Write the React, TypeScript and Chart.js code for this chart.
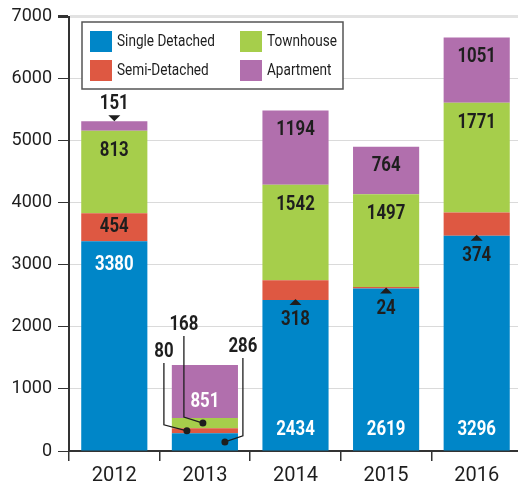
import React, { useEffect, useRef } from "react";
import { Chart, registerables } from "chart.js";

Chart.register(...registerables);

const categories = ["2012", "2013", "2014", "2015", "2016"];
const seriesNames = ["Single Detached", "Semi-Detached", "Townhouse", "Apartment"];
// bar heights as drawn in the picture
const singleDetached = [3380, 286, 2434, 2619, 3470];
const semiDetached = [454, 80, 318, 24, 374];
const townhouse = [1330, 168, 1542, 1497, 1771];
const apartment = [151, 851, 1194, 764, 1051];
// value labels as printed in the picture
const singleLabels = ["3380", "286", "2434", "2619", "3296"];
const semiLabels = ["454", "80", "318", "24", "374"];
const townLabels = ["813", "168", "1542", "1497", "1771"];
const aptLabels = ["151", "851", "1194", "764", "1051"];
const yTicks = [0, 1000, 2000, 3000, 4000, 5000, 6000, 7000];

const colors = ["#0086C8", "#DE5842", "#A6CE4B", "#B16FAD"];
const FONT = "Roboto, 'Liberation Sans', sans-serif";
const DARK = "#1e1e1e";

function scaledText(ctx: any, text: string, x: number, y: number, sx: number) {
  ctx.save();
  ctx.translate(x, y);
  ctx.scale(sx, 1);
  ctx.fillText(text, 0, 0);
  ctx.restore();
}

const labelPlugin = {
  id: "valueLabels",
  afterDatasetsDraw(chart: any) {
    const ctx = chart.ctx;
    const labels = [singleLabels, semiLabels, townLabels, aptLabels];
    ctx.save();
    ctx.font = `bold 20px ${FONT}`;
    ctx.textAlign = "center";
    ctx.textBaseline = "middle";
    const SX = 0.84;
    const tri = (x: number, tipY: number, up: boolean) => {
      ctx.beginPath();
      ctx.moveTo(x, tipY);
      ctx.lineTo(x - 6, tipY + (up ? 6 : -6));
      ctx.lineTo(x + 6, tipY + (up ? 6 : -6));
      ctx.closePath();
      ctx.fillStyle = DARK;
      ctx.fill();
    };
    const stackTop = (i: number) => chart.getDatasetMeta(3).data[i].y;
    const callout = [
      [38, -18, 20],
      [-41, -13, -18],
      [-21, -40, -2],
    ];
    for (let s = 0; s < 4; s++) {
      const meta = chart.getDatasetMeta(s);
      meta.data.forEach((el: any, i: number) => {
        const text = labels[s][i];
        const top = el.y;
        const base = el.base;
        const cx = el.x;
        if (i === 1 && s < 3) {
          const [tdx, tdy, ddx] = callout[s];
          const tx = cx + tdx;
          const ty = stackTop(i) + tdy;
          const dx = cx + ddx;
          const dy = (top + base) / 2;
          ctx.fillStyle = DARK;
          scaledText(ctx, text, tx, ty, SX);
          ctx.strokeStyle = DARK;
          ctx.lineWidth = 1.3;
          ctx.beginPath();
          ctx.moveTo(tx, ty + 11);
          ctx.lineTo(tx, dy - 6);
          ctx.lineTo(dx, dy);
          ctx.stroke();
          ctx.beginPath();
          ctx.arc(dx, dy, 3.5, 0, Math.PI * 2);
          ctx.fillStyle = DARK;
          ctx.fill();
          return;
        }
        if (s === 0) {
          ctx.fillStyle = "#ffffff";
          const y = i === 0 ? top + 24 : base - 21;
          scaledText(ctx, text, cx, y, SX);
        } else if (s === 1) {
          if (i === 0) {
            ctx.fillStyle = DARK;
            scaledText(ctx, text, cx, (top + base) / 2, SX);
          } else {
            tri(cx, base - 1, true);
            ctx.fillStyle = DARK;
            scaledText(ctx, text, cx, base + 20, SX);
          }
        } else if (s === 2) {
          ctx.fillStyle = DARK;
          scaledText(ctx, text, cx, top + 20, SX);
        } else {
          if (i === 0) {
            tri(cx, top, false);
            ctx.fillStyle = DARK;
            scaledText(ctx, text, cx, top - 17, SX);
          } else if (i === 1) {
            ctx.fillStyle = "#ffffff";
            scaledText(ctx, text, cx, top + 37, SX);
          } else {
            ctx.fillStyle = DARK;
            scaledText(ctx, text, cx, top + 19, SX);
          }
        }
      });
    }
    ctx.restore();
  },
  afterDraw(chart: any) {
    const ctx = chart.ctx;
    ctx.save();
    ctx.fillStyle = "#ffffff";
    ctx.fillRect(82, 22, 261, 67);
    ctx.strokeStyle = "#555555";
    ctx.lineWidth = 1.5;
    ctx.strokeRect(82, 22, 261, 67);
    ctx.font = `16px ${FONT}`;
    ctx.textAlign = "left";
    ctx.textBaseline = "middle";
    const pos = [
      [90, 31],
      [90, 60],
      [240, 31],
      [240, 60],
    ];
    seriesNames.forEach((name, k) => {
      const [x, y] = pos[k];
      ctx.fillStyle = colors[k];
      ctx.fillRect(x, y, 22, 21);
      ctx.fillStyle = DARK;
      scaledText(ctx, name, x + 27, y + 10.5, 0.85);
    });
    ctx.restore();
  },
};

export default function App() {
  const ref = useRef<HTMLCanvasElement>(null);
  useEffect(() => {
    if (!ref.current) return;
    Chart.defaults.font.family = FONT;
    const series = [singleDetached, semiDetached, townhouse, apartment];
    const chart = new Chart(ref.current, {
      type: "bar",
      data: {
        labels: categories,
        datasets: series.map((d, k) => ({
          label: seriesNames[k],
          data: d,
          backgroundColor: colors[k],
          borderWidth: 0,
          barPercentage: 0.73,
          categoryPercentage: 1,
        })),
      },
      options: {
        responsive: false,
        animation: false,
        layout: { padding: { top: 16, left: 0, right: 0, bottom: 0 } },
        plugins: { legend: { display: false }, tooltip: { enabled: false } },
        scales: {
          x: {
            stacked: true,
            offset: true,
            afterFit: (scale: any) => {
              scale.height = 36;
            },
            grid: {
              offset: true,
              drawOnChartArea: false,
              drawTicks: true,
              tickLength: 10,
              tickColor: "#333333",
              lineWidth: 1.5,
            },
            border: { color: "#333333", width: 2 },
            ticks: { color: DARK, font: { size: 20 }, padding: 3 },
          },
          y: {
            stacked: true,
            min: 0,
            max: 7000,
            afterFit: (scale: any) => {
              scale.width = 69;
            },
            afterBuildTicks: (scale: any) => {
              scale.ticks = yTicks.map((v) => ({ value: v }));
            },
            grid: {
              color: (c: any) => (c.tick && c.tick.value === 7000 ? "#e2e2e2" : "#dadada"),
              lineWidth: (c: any) => (c.tick && c.tick.value === 7000 ? 3 : 1),
              tickColor: "#333333",
              tickLength: 11,
            },
            border: { color: "#333333", width: 2 },
            ticks: {
              color: DARK,
              font: { size: 18 },
              padding: 6,
              callback: (v: any) => String(v),
            },
          },
        },
      },
      plugins: [labelPlugin],
    });
    return () => chart.destroy();
  }, []);
  return (
    <div
      style={{
        position: "fixed",
        left: 0,
        top: 0,
        width: 518,
        height: 487,
        overflow: "hidden",
        background: "#fff",
      }}
    >
      <canvas ref={ref} width={522} height={487} style={{ width: 522, height: 487, display: "block" }} />
    </div>
  );
}
